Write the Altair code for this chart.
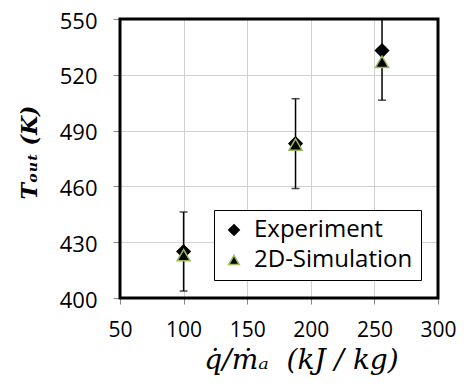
import altair as alt
import pandas as pd

x_vals = [100, 188, 256]
experiment = [425, 483, 533]
simulation = [423, 482.5, 527]
err_frac = 0.05
series_names = ["Experiment", "2D-Simulation"]
x_domain = [50, 300]
y_domain = [400, 550]

rows = []
for x, v in zip(x_vals, experiment):
    rows.append({"x": x, "y": v, "series": "Experiment"})
for x, v in zip(x_vals, simulation):
    rows.append({"x": x, "y": v, "series": "2D-Simulation"})
pts = pd.DataFrame(rows)

err = pd.DataFrame({
    "x": x_vals,
    "lo": [v * (1 - err_frac) for v in experiment],
    "hi": [v * (1 + err_frac) for v in experiment],
})
frame = pd.DataFrame({"x": [x_domain[0]], "x2": [x_domain[1]], "y": [y_domain[0]], "y2": [y_domain[1]]})

xscale = alt.Scale(domain=x_domain, nice=False)
yscale = alt.Scale(domain=y_domain, nice=False, zero=False)

xaxis = alt.Axis(
    values=[50, 100, 150, 200, 250, 300],
    title="q̇/ṁₐ\u00a0\u00a0(kJ / kg)",
    titleFont="DejaVu Serif", titleFontStyle="italic", titleFontWeight="normal",
    titleFontSize=28, titleColor="black",
    titleX=181, titleY=70, titleAlign="center", titleBaseline="alphabetic",
    labelFont="Open Sans", labelFontSize=21, labelColor="black", labelFlush=False,
    labelPadding=15, tickSize=6, tickColor="#888", domain=True, domainColor="#888",
    grid=True, gridColor="#d0d0d0", gridWidth=1,
)
yaxis = alt.Axis(
    values=[400, 430, 460, 490, 520, 550],
    title="Tₒᵤₜ (K)",
    titleFont="DejaVu Serif", titleFontStyle="italic", titleFontWeight="bold",
    titleFontSize=22, titleColor="black",
    titleAngle=-90, titleX=-84, titleY=133, titleAlign="center", titleBaseline="alphabetic",
    labelFont="Open Sans", labelFontSize=22, labelColor="black", labelFlush=False,
    labelPadding=16, labelOffset=2, tickSize=7, tickColor="#888", domain=True, domainColor="#888",
    grid=True, gridColor="#d0d0d0", gridWidth=1,
)

border = alt.Chart(frame).mark_rect(filled=False, stroke="black", strokeWidth=3).encode(
    x=alt.X("x:Q", scale=xscale, axis=xaxis),
    x2="x2:Q",
    y=alt.Y("y:Q", scale=yscale, axis=yaxis),
    y2="y2:Q",
)

base_err = alt.Chart(err)
rules = base_err.mark_rule(color="black", strokeWidth=1.5, clip=True).encode(
    x=alt.X("x:Q", scale=xscale),
    y=alt.Y("lo:Q", scale=yscale),
    y2="hi:Q",
)
cap_lo = base_err.mark_tick(color="black", orient="horizontal", size=8, thickness=1.5, clip=True).encode(
    x=alt.X("x:Q", scale=xscale), y=alt.Y("lo:Q", scale=yscale)
)
cap_hi = base_err.mark_tick(color="black", orient="horizontal", size=8, thickness=1.5, clip=True).encode(
    x=alt.X("x:Q", scale=xscale), y=alt.Y("hi:Q", scale=yscale)
)

points = alt.Chart(pts).mark_point(filled=True, strokeWidth=1.5, opacity=1).encode(
    x=alt.X("x:Q", scale=xscale),
    y=alt.Y("y:Q", scale=yscale),
    shape=alt.Shape("series:N", scale=alt.Scale(domain=series_names, range=["diamond", "triangle-up"]), legend=alt.Legend(title=None)),
    fill=alt.Fill("series:N", scale=alt.Scale(domain=series_names, range=["black", "black"]), legend=alt.Legend(title=None)),
    stroke=alt.Stroke("series:N", scale=alt.Scale(domain=series_names, range=["black", "#9BBB59"]), legend=alt.Legend(title=None)),
    order=alt.Order("order:Q"),
).transform_calculate(order="datum.series == 'Experiment' ? 0 : 1")

chart = alt.layer(border, rules, cap_lo, cap_hi, points).properties(
    width=318, height=279,
    padding={"left": 112, "top": 11, "right": 18, "bottom": 78},
    autosize="none",
).configure_view(
    stroke=None,
).configure_point(
    size=170,
).configure_legend(
    orient="none", legendX=94, legendY=191,
    fillColor="white", strokeColor="black", strokeWidth=1,
    padding=8, labelFont="Open Sans", labelFontSize=24, labelColor="black",
    symbolSize=110, symbolStrokeWidth=1.5, rowPadding=6, labelOffset=8,
    symbolOpacity=1,
)

chart.save("out.html", embed_options={"renderer": "svg", "actions": False})
